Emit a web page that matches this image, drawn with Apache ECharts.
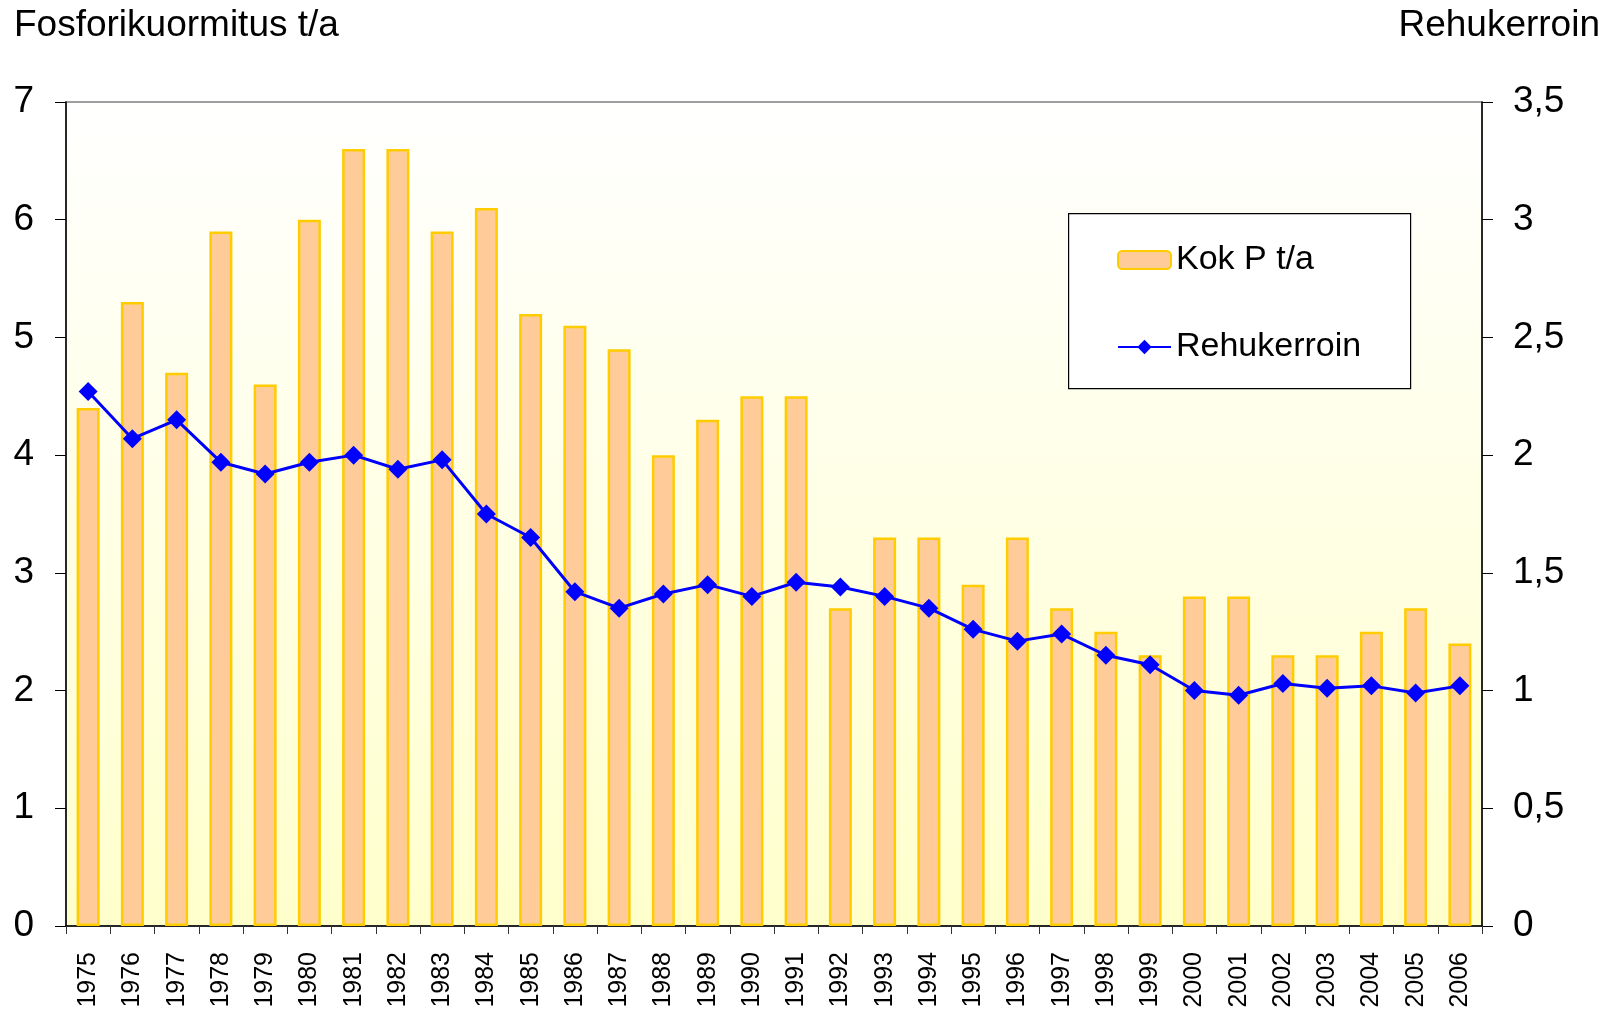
<!DOCTYPE html>
<html lang="fi">
<head>
	<meta charset="UTF-8">
	<title>Fosforikuormitus</title>
	<script src="https://cdn.jsdelivr.net/npm/echarts@6/dist/echarts.min.js"></script>
	<style>
		html, body { margin: 0; padding: 0; background: #fff; }
	</style>
</head>
<body>
	<div id="main" style="width: 1606px; height: 1011px;"></div>
	<script type="text/javascript">
	var years = ['1975', '1976', '1977', '1978', '1979', '1980', '1981', '1982', '1983', '1984',
		'1985', '1986', '1987', '1988', '1989', '1990', '1991', '1992', '1993', '1994',
		'1995', '1996', '1997', '1998', '1999', '2000', '2001', '2002', '2003', '2004',
		'2005', '2006'];
	var kokP = [4.4, 5.3, 4.7, 5.9, 4.6, 6.0, 6.6, 6.6, 5.9, 6.1,
		5.2, 5.1, 4.9, 4.0, 4.3, 4.5, 4.5, 2.7, 3.3, 3.3,
		2.9, 3.3, 2.7, 2.5, 2.3, 2.8, 2.8, 2.3, 2.3, 2.5,
		2.7, 2.4];
	var rehukerroin = [2.27, 2.07, 2.15, 1.97, 1.92, 1.97, 2.0, 1.94, 1.98, 1.75,
		1.65, 1.42, 1.35, 1.41, 1.45, 1.40, 1.46, 1.44, 1.40, 1.35,
		1.26, 1.21, 1.24, 1.15, 1.11, 1.00, 0.98, 1.03, 1.01, 1.02,
		0.99, 1.02];

	var font = "'Liberation Sans', Arial, sans-serif";

	var chart = echarts.init(document.getElementById('main'));
	var option = {
		animation: false,
		backgroundColor: '#ffffff',
		textStyle: { fontFamily: font, color: '#000' },
		grid: {
			left: 66, top: 102, right: 124, bottom: 85,
			show: true,
			borderColor: '#808080',
			borderWidth: 1.5,
			backgroundColor: {
				type: 'linear', x: 0, y: 0, x2: 0, y2: 1,
				colorStops: [
					{ offset: 0, color: '#ffffff' },
					{ offset: 1, color: '#ffffcc' }
				]
			}
		},
		graphic: [
			{
				type: 'text', left: 14, top: 7,
				style: { text: 'Fosforikuormitus t/a', font: '37px ' + font, fill: '#000' }
			},
			{
				type: 'text', right: 6, top: 7,
				style: { text: 'Rehukerroin', font: '37px ' + font, fill: '#000' }
			},
			{
				type: 'rect', left: 1068, top: 213, z: 5,
				shape: { width: 342, height: 175 },
				style: { fill: '#ffffff', stroke: '#000', lineWidth: 1.2 }
			}
		],
		legend: {
			orient: 'vertical',
			left: 1112,
			top: 238,
			z: 10,
			itemWidth: 53,
			itemHeight: 18,
			itemGap: 53,
			textStyle: { fontFamily: font, fontSize: 34, color: '#000' },
			data: ['Kok P t/a', 'Rehukerroin']
		},
		xAxis: {
			type: 'category',
			data: years,
			boundaryGap: true,
			axisLine: { lineStyle: { color: '#000', width: 1.5 } },
			axisTick: { show: true, alignWithLabel: false, length: 8, lineStyle: { color: '#333' } },
			axisLabel: {
				interval: 0, rotate: 90, fontSize: 25, color: '#000',
				fontFamily: font, margin: 26
			},
			splitLine: { show: false }
		},
		yAxis: [
			{
				type: 'value', min: 0, max: 7, interval: 1,
				axisLine: { show: true, lineStyle: { color: '#000', width: 1.5 } },
				axisTick: { show: true, length: 11, lineStyle: { color: '#000' } },
				axisLabel: { fontSize: 37, color: '#000', fontFamily: font, margin: 32 },
				splitLine: { show: false }
			},
			{
				type: 'value', min: 0, max: 3.5, interval: 0.5,
				axisLine: { show: true, lineStyle: { color: '#000', width: 1.5 } },
				axisTick: { show: true, length: 11, lineStyle: { color: '#000' } },
				axisLabel: {
					fontSize: 37, color: '#000', fontFamily: font, margin: 31,
					formatter: function (v) { return String(v).replace('.', ','); }
				},
				splitLine: { show: false }
			}
		],
		series: [
			{
				name: 'Kok P t/a',
				type: 'bar',
				yAxisIndex: 0,
				barWidth: 23,
				itemStyle: { color: '#ffcc99', borderColor: '#ffcc00', borderWidth: 2.5 },
				data: kokP
			},
			{
				name: 'Rehukerroin',
				type: 'line',
				yAxisIndex: 1,
				symbol: 'diamond',
				symbolSize: 19,
				lineStyle: { color: '#0000ff', width: 3 },
				itemStyle: { color: '#0000ff' },
				data: rehukerroin
			}
		]
	};
	chart.setOption(option);
	</script>
</body>
</html>
